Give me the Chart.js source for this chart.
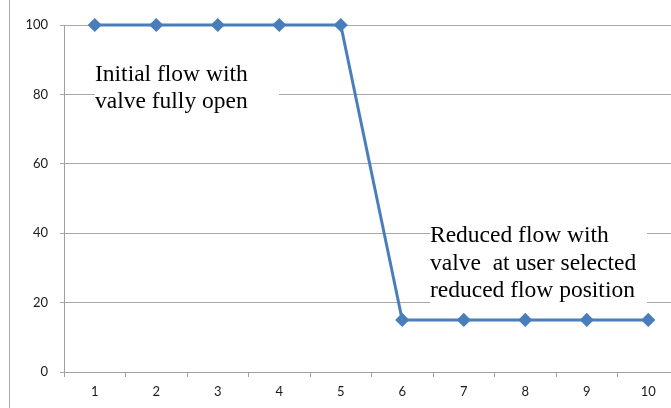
<!DOCTYPE html>
<html><head><meta charset="utf-8">
<script src="https://cdn.jsdelivr.net/npm/chart.js@4"></script>
<style>
html,body{margin:0;padding:0;background:#fff;overflow:hidden;width:671px;height:408px;}
#wrap{position:relative;width:690px;height:408px;}
#edge{position:absolute;left:9px;top:0;width:0;height:408px;border-left:1px solid #a6a6a6;}
</style></head><body>
<div id="wrap"><canvas id="c" width="690" height="408"></canvas><div id="edge"></div></div>
<script>
const categories = ['1','2','3','4','5','6','7','8','9','10'];
const flowValues = [100,100,100,100,100,15,15,15,15,15];
const yTicks = [0,20,40,60,80,100];
const noteInitial = ['Initial flow with','valve fully open'];
const noteReduced = ['Reduced flow with','valve  at user selected','reduced flow position'];

const notes = {
  id:'notes',
  afterDraw(chart){
    const ctx = chart.ctx;
    ctx.save();
    ctx.fillStyle='#fff';
    ctx.fillRect(95,58,184,60);
    ctx.fillRect(430,220,217,88);
    ctx.fillStyle='#000';
    ctx.font='23.5px "Liberation Serif"';
    ctx.textBaseline='alphabetic';
    noteInitial.forEach((t,i)=>ctx.fillText(t,95,81+i*27));
    noteReduced.forEach((t,i)=>ctx.fillText(t,430,242+i*27.5));
    ctx.restore();
  }
};

new Chart(document.getElementById('c'),{
  type:'line',
  data:{labels:categories,datasets:[{data:flowValues,borderColor:'#4a7ebb',backgroundColor:'#4a7ebb',borderWidth:3,pointStyle:'rectRot',pointRadius:5,pointHoverRadius:5,tension:0,clip:false}]},
  options:{
    responsive:false,animation:false,
    layout:{padding:{left:0,right:11,top:25,bottom:0}},
    plugins:{legend:{display:false},tooltip:{enabled:false}},
    scales:{
      x:{offset:true,
        grid:{drawOnChartArea:false,drawTicks:true,tickLength:5,color:'#a0a0a0',offset:true},
        border:{color:'#a0a0a0',width:1},
        ticks:{font:{family:'Lato',size:13},color:'#1a1a1a',padding:7,maxRotation:0},
        afterFit(s){s.height=36;}
      },
      y:{min:0,max:100,
        afterBuildTicks(s){s.ticks=yTicks.map(v=>({value:v}));},
        grid:{color:'#a8a8a8',tickLength:4,lineWidth:1},
        border:{color:'#a0a0a0',width:1},
        ticks:{font:{family:'Lato',size:13},color:'#1a1a1a',padding:12},
        afterFit(s){s.width=64;}
      }
    }
  },
  plugins:[notes]
});
</script></body></html>
